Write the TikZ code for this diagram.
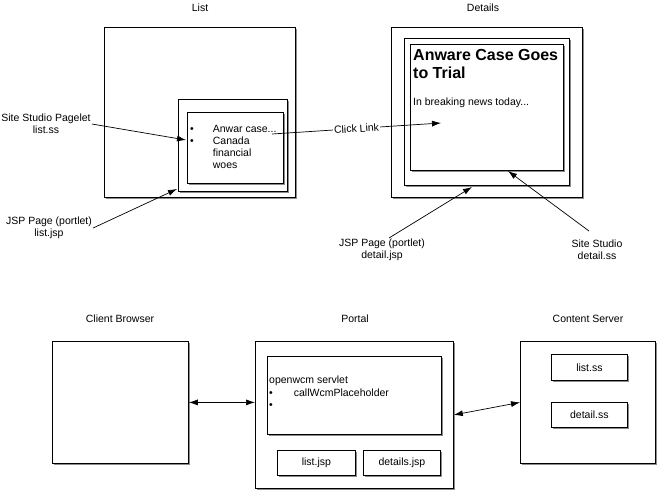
\documentclass[tikz,border=0pt]{standalone}
\usepackage{fontspec}
\setmainfont{Liberation Sans}
\usepackage{tikz}
\usetikzlibrary{arrows.meta,shadows,positioning,calc}

\begin{document}
\begin{tikzpicture}[
    x=1pt, y=-1pt,
    font=\fontsize{10.5}{12}\selectfont,
    box/.style={rectangle, draw, fill=white, line width=0.8pt, anchor=north west, inner sep=0pt,
        drop shadow={shadow xshift=1.6pt, shadow yshift=-1.6pt, fill=black!45, opacity=1}},
    note/.style={align=center, inner sep=1pt},
    line/.style={draw, line width=0.7pt, -{Latex[length=9pt,width=6pt]}},
    both/.style={draw, line width=0.7pt, {Latex[length=9pt,width=6pt]}-{Latex[length=9pt,width=6pt]}}
]
\useasboundingbox (0,0) rectangle (658,491);

% list page
\node [note] (listtitle) at (200,8) {List};
\node [box, minimum width=191, minimum height=170] (listpage) at (104,27) {};
\node [box, minimum width=109, minimum height=92] (listportlet) at (178,99) {};
\node [box, minimum width=96, minimum height=71] (listpagelet) at (187,112) {};
\node [anchor=north west, inner sep=0pt] (listitems) at (190,123.6)
    {\begin{tabular}{@{}l@{\hspace{19pt}}l@{}}\textbullet & Anwar case...\\ \textbullet & Canada\\ & financial\\ & woes\end{tabular}};

% details page
\node [note] (detailtitle) at (483,8) {Details};
\node [box, minimum width=191, minimum height=170] (detailpage) at (391,27) {};
\node [box, minimum width=165, minimum height=147] (detailportlet) at (404,38) {};
\node [box, minimum width=153, minimum height=126] (detailpagelet) at (410,44) {};
\node [anchor=north west, inner sep=0pt, align=left, font=\bfseries\fontsize{16}{18}\selectfont] (headline) at (413,49) {Anware Case Goes\\to Trial};
\node [anchor=west, inner sep=0pt] (teaser) at (413,103) {In breaking news today...};

% callouts
\node [note] (pageletnote) at (46,124) {Site Studio Pagelet\\list.ss};
\node [note] (listjspnote) at (49,228) {JSP Page (portlet)\\list.jsp};
\node [note] (detailjspnote) at (382,250) {JSP Page (portlet)\\detail.jsp};
\node [note] (detailssnote) at (597,250) {Site Studio\\detail.ss};

\coordinate (pageletpt) at (186,140);
\coordinate (listjsppt) at (177,189);
\coordinate (detailjspstart) at (389,238);
\coordinate (detailjsppt) at (472,187);
\coordinate (detailssstart) at (589,231);
\coordinate (detailsspt) at (508,171);
\coordinate (clickstart) at (272,134);
\coordinate (clickpt) at (441,123);

\path [line] (pageletnote.east) -- (pageletpt);
\path [line] (listjspnote.east) -- (listjsppt);
\path [line] (detailjspstart) -- (detailjsppt);
\path [line] (detailssstart) -- (detailsspt);
\path [line] (clickstart) -- node[sloped, fill=white, inner sep=1pt] {Click Link} (clickpt);

% architecture
\node [note] (clienttitle) at (120,319) {Client Browser};
\node [note] (portaltitle) at (355,319) {Portal};
\node [note] (contenttitle) at (588,319) {Content Server};

\node [box, minimum width=136, minimum height=122] (client) at (52,341) {};
\node [box, minimum width=198, minimum height=147] (portal) at (255,341) {};
\node [box, minimum width=174, minimum height=78] (servlet) at (267,356) {};
\node [anchor=north west, inner sep=0pt, font=\fontsize{10.5}{12.5}\selectfont] (servlettext) at (269,375)
    {\begin{tabular}{@{}l@{\hspace{21pt}}l@{}}\multicolumn{2}{@{}l@{}}{openwcm servlet}\\ \textbullet & callWcmPlaceholder\\ \textbullet & \end{tabular}};
\node [box, minimum width=78, minimum height=25] (listjsp) at (277,450) {};
\node at (listjsp.center) {list.jsp};
\node [box, minimum width=77, minimum height=25] (detailsjsp) at (363,450) {};
\node at (detailsjsp.center) {details.jsp};

\node [box, minimum width=135, minimum height=122] (content) at (520,341) {};
\node [box, minimum width=76, minimum height=26] (listss) at (551,354) {};
\node at (listss.center) {list.ss};
\node [box, minimum width=76, minimum height=25] (detailss) at (551,402) {};
\node at (detailss.center) {detail.ss};

\path [both] (client.east) -- (portal.west |- client.east);
\path [both] (portal.east) -- (content.west);

\end{tikzpicture}
\end{document}
